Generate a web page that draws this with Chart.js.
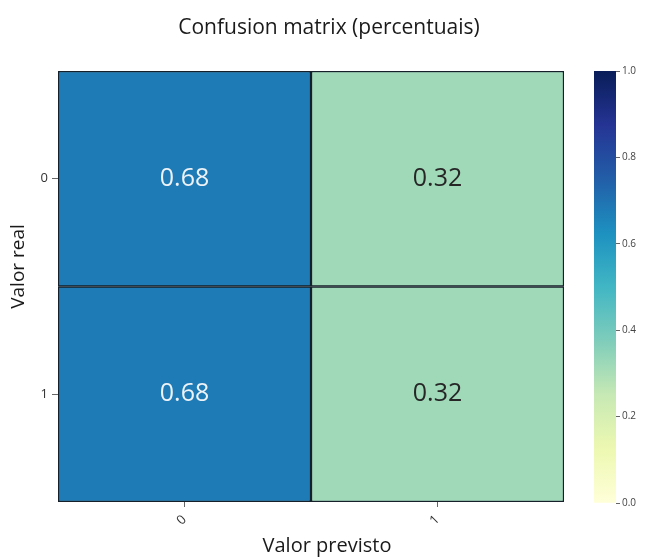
<!DOCTYPE html>
<html>
<head>
<meta charset="utf-8">
<script src="https://cdn.jsdelivr.net/npm/chart.js@4/dist/chart.umd.min.js"></script>
<style>
  html, body { margin: 0; padding: 0; background: #ffffff; }
  #wrap { position: relative; width: 646px; height: 559px; overflow: hidden; }
  #heat { position: absolute; left: 0; top: 0; }
  #bar { position: absolute; left: 594px; top: 0; }
</style>
</head>
<body>
<div id="wrap">
  <canvas id="heat" width="646" height="559"></canvas>
  <canvas id="bar" width="52" height="559"></canvas>
</div>
<script>
// Confusion matrix (row-normalised), rows = real class, columns = predicted class
const predictedLabels = ['0', '1'];
const realLabels = ['0', '1'];
const rowReal0 = [0.68, 0.32];
const rowReal1 = [0.68, 0.32];
const matrixRows = [rowReal0, rowReal1];
const colorbarTicks = [0.0, 0.2, 0.4, 0.6, 0.8, 1.0];

const FONT = "'Open Sans', 'Noto Sans', 'DejaVu Sans', sans-serif";

// YlGnBu colour map stops
const YLGNBU = ['#ffffd9', '#edf8b1', '#c7e9b4', '#7fcdbb', '#41b6c4',
                '#1d91c0', '#225ea8', '#253494', '#081d58'];

function hexToRgb(h) {
  return [parseInt(h.slice(1, 3), 16), parseInt(h.slice(3, 5), 16), parseInt(h.slice(5, 7), 16)];
}
function ylgnbu(v) {
  const t = Math.max(0, Math.min(1, v)) * (YLGNBU.length - 1);
  const i = Math.min(Math.floor(t), YLGNBU.length - 2);
  const f = t - i;
  const a = hexToRgb(YLGNBU[i]), b = hexToRgb(YLGNBU[i + 1]);
  const c = a.map((x, k) => Math.round(x + (b[k] - x) * f));
  return 'rgb(' + c.join(',') + ')';
}

// one floating-bar dataset per matrix row, spanning [row, row + 1] on the y scale
const heatDatasets = matrixRows.map((values, r) => ({
  label: 'real ' + realLabels[r],
  data: predictedLabels.map(() => [r, r + 1]),
  values: values,
  backgroundColor: values.map(ylgnbu),
  borderColor: '#16202b',
  borderWidth: 1.5,
  borderSkipped: false,
  grouped: false,
  barPercentage: 1,
  categoryPercentage: 1
}));

// writes each cell's value at the centre of its bar
const cellText = {
  id: 'cellText',
  afterDatasetsDraw(chart) {
    const ctx = chart.ctx;
    ctx.save();
    ctx.font = '25px ' + FONT;
    ctx.textAlign = 'center';
    ctx.textBaseline = 'middle';
    chart.data.datasets.forEach((ds, di) => {
      chart.getDatasetMeta(di).data.forEach((el, i) => {
        const v = ds.values[i];
        const p = el.getProps(['x', 'y', 'base'], true);
        ctx.fillStyle = v > 0.5 ? '#eef3f8' : '#262626';
        ctx.fillText(v.toFixed(2), p.x, (p.y + p.base) / 2);
      });
    });
    ctx.restore();
  }
};

// figure title and axis titles
const figureText = {
  id: 'figureText',
  afterDraw(chart) {
    const ctx = chart.ctx;
    const a = chart.chartArea;
    ctx.save();
    ctx.fillStyle = '#1a1a1a';
    ctx.textAlign = 'center';
    ctx.textBaseline = 'middle';
    ctx.font = '21px ' + FONT;
    ctx.fillText('Confusion matrix (percentuais)', 329, 28);
    ctx.font = '20px ' + FONT;
    ctx.fillText('Valor previsto', (a.left + a.right) / 2 + 16, 546);
    ctx.font = '19px ' + FONT;
    ctx.translate(19, (a.top + a.bottom) / 2 - 20);
    ctx.rotate(-Math.PI / 2);
    ctx.fillText('Valor real', 0, 0);
    ctx.restore();
  }
};

new Chart(document.getElementById('heat'), {
  type: 'bar',
  data: { labels: predictedLabels, datasets: heatDatasets },
  options: {
    responsive: false,
    animation: false,
    layout: { padding: { top: 71, right: 82, left: 0, bottom: 0 } },
    plugins: { legend: { display: false }, tooltip: { enabled: false }, title: { display: false } },
    scales: {
      x: {
        type: 'category',
        offset: true,
        border: { display: false },
        grid: { offset: false, drawOnChartArea: false, tickLength: 5, color: '#666666', tickWidth: 1 },
        ticks: { minRotation: 45, maxRotation: 45, padding: 5, color: '#333333', font: { family: FONT, size: 13 } },
        afterFit(scale) { scale.height = 57; }
      },
      y: {
        type: 'linear',
        min: 0,
        max: matrixRows.length,
        reverse: true,
        border: { display: false },
        grid: { drawOnChartArea: false, tickLength: 6, color: '#666666', tickWidth: 1 },
        afterBuildTicks(scale) { scale.ticks = realLabels.map((_, i) => ({ value: i + 0.5 })); },
        ticks: {
          padding: 4,
          color: '#333333',
          font: { family: FONT, size: 13 },
          callback: (v, i) => realLabels[i]
        },
        afterFit(scale) { scale.width = 58; }
      }
    }
  },
  plugins: [cellText, figureText]
});

// colour bar: a single floating bar filled with the YlGnBu gradient
new Chart(document.getElementById('bar'), {
  type: 'bar',
  data: {
    labels: [''],
    datasets: [{
      data: [[0, 1]],
      borderWidth: 0,
      barPercentage: 1,
      categoryPercentage: 1,
      backgroundColor(ctx) {
        const area = ctx.chart.chartArea;
        if (!area) return '#ffffff';
        const g = ctx.chart.ctx.createLinearGradient(0, area.bottom, 0, area.top);
        YLGNBU.forEach((c, i) => g.addColorStop(i / (YLGNBU.length - 1), c));
        return g;
      }
    }]
  },
  options: {
    responsive: false,
    animation: false,
    layout: { padding: { top: 71, bottom: 56, left: 0, right: 0 } },
    plugins: { legend: { display: false }, tooltip: { enabled: false } },
    scales: {
      x: { display: false },
      y: {
        position: 'right',
        min: 0,
        max: 1,
        border: { display: false },
        grid: { drawOnChartArea: false, tickLength: 4, color: '#666666' },
        afterBuildTicks(scale) { scale.ticks = colorbarTicks.map(v => ({ value: v })); },
        ticks: {
          padding: 2,
          color: '#444444',
          font: { family: FONT, size: 10 },
          callback: v => Number(v).toFixed(1)
        },
        afterFit(scale) { scale.width = 30; }
      }
    }
  }
});
</script>
</body>
</html>
